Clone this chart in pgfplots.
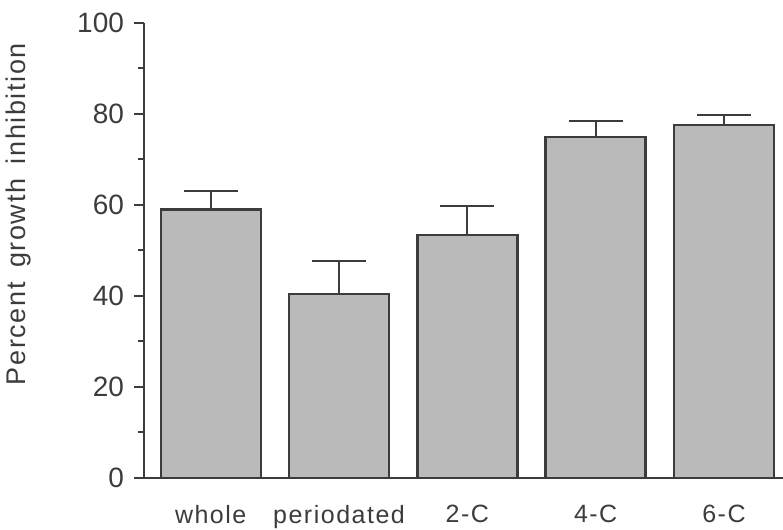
\documentclass[border=0pt]{standalone}
\usepackage{fontspec}
\setmainfont{Liberation Sans}
\newfontfamily\ticksfont{Liberation Sans}
\newfontfamily\catfont[LetterSpace=6]{Liberation Sans}
\newfontfamily\labfont[LetterSpace=6,WordSpace=1.6]{Liberation Sans}
\usepackage{pgfplots}
\usepackage{pgfplotstable}
\pgfplotsset{compat=1.18}
\definecolor{ink}{RGB}{60,60,60}
\definecolor{barfill}{RGB}{186,186,186}

\pgfplotstableread{
x   val   err
0   59.0  4.1
1   40.4  7.4
2   53.4  6.4
3   74.9  3.6
4   77.6  2.1
}\growthtable

\begin{document}
\begin{tikzpicture}
\begin{axis}[
  scale only axis,
  width=319.5bp, height=227.5bp,
  xmin=-0.52, xmax=4.46,
  ymin=0, ymax=100,
  axis lines=left,
  axis line style={-, ink, line width=1bp},
  ytick={0,20,40,60,80,100},
  minor ytick={10,30,50,70,90},
  tick align=outside,
  major tick length=5bp,
  minor tick length=3bp,
  every tick/.style={ink, line width=1bp},
  yticklabel style={font=\ticksfont\fontsize{14bp}{16bp}\selectfont, text=ink, xshift=-1.5bp},
  /pgf/number format/assume math mode=true,
  xtick=data,
  xticklabels={whole,periodated,2-C,4-C,6-C},
  xtick style={draw=none},
  xticklabel style={font=\catfont\fontsize{12.5bp}{14bp}\selectfont, text=ink, yshift=-5bp},
  ylabel={Percent growth inhibition},
  ylabel style={font=\labfont\fontsize{13.5bp}{15bp}\selectfont, text=ink,
    at={(axis description cs:-0.196,0.58)}, anchor=center},
  clip=false,
]
\addplot[ybar, bar width=50bp, bar shift=0pt, fill=barfill, draw=ink, line width=1.2bp,
  error bars/.cd, y dir=plus, y explicit,
  error bar style={ink, line width=1bp},
  error mark options={ink, line width=1bp, mark size=13.5bp, rotate=90}]
  table[x=x, y=val, y error=err] {\growthtable};
\end{axis}
\pgfresetboundingbox
\path (-72bp,-26bp) rectangle (319.5bp,239bp);
\end{tikzpicture}
\end{document}
